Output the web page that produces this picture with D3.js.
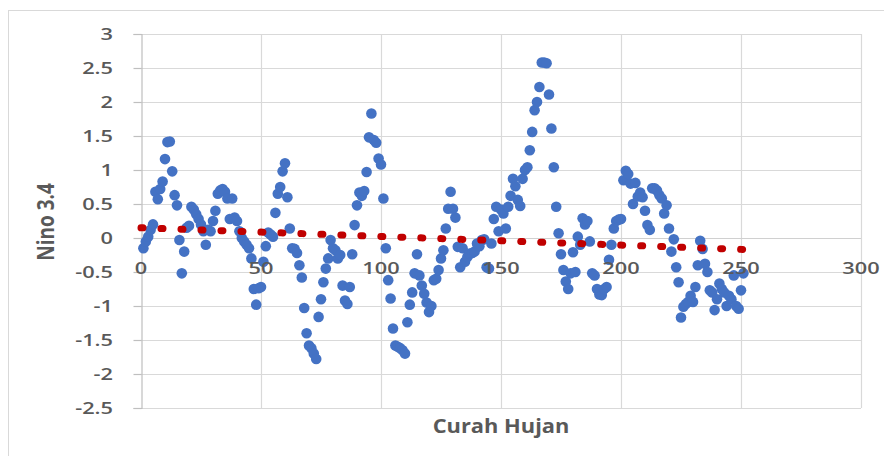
<!DOCTYPE html>
<html><head><meta charset="utf-8">
<script src="https://cdn.jsdelivr.net/npm/d3@7"></script>
<style>body{margin:0;background:#fff}</style>
</head><body><svg id="c" width="884" height="456"></svg>
<script>
// Nino 3.4 values, one per index (x = 1, 2, 3, ...)
const nino = [
 -0.15,-0.05,0.02,0.12,0.2,0.68,0.57,0.72,0.83,1.16,
 1.41,1.42,0.98,0.63,0.48,-0.03,-0.52,-0.2,0.15,0.18,
 0.46,0.42,0.35,0.28,0.2,0.1,-0.1,0.12,0.1,0.25,
 0.4,0.65,0.7,0.72,0.68,0.58,0.28,0.58,0.3,0.25,
 0.1,0.0,-0.05,-0.1,-0.15,-0.3,-0.75,-0.98,-0.74,-0.72,
 -0.35,-0.12,0.08,0.05,0.02,0.37,0.65,0.75,0.98,1.1,
 0.6,0.14,-0.15,-0.16,-0.22,-0.4,-0.58,-1.03,-1.4,-1.58,
 -1.62,-1.7,-1.78,-1.16,-0.9,-0.65,-0.45,-0.3,-0.03,-0.15,
 -0.18,-0.3,-0.25,-0.7,-0.92,-0.97,-0.72,-0.24,0.19,0.48,
 0.67,0.62,0.69,0.97,1.48,1.83,1.44,1.4,1.17,1.08,
 0.58,-0.15,-0.62,-0.89,-1.33,-1.58,-1.6,-1.62,-1.65,-1.7,
 -1.24,-0.98,-0.8,-0.52,-0.24,-0.55,-0.7,-0.82,-0.95,-1.09,
 -1.0,-0.62,-0.6,-0.47,-0.3,-0.18,0.14,0.43,0.68,0.43,
 0.3,-0.13,-0.43,-0.15,-0.35,-0.28,-0.23,-0.22,-0.2,-0.08,
 -0.12,-0.03,-0.02,-0.43,-0.45,-0.08,0.28,0.46,0.1,0.42,
 0.36,0.14,0.46,0.62,0.87,0.76,0.56,0.47,0.87,1.0,
 1.04,1.29,1.56,1.88,2.0,2.22,2.58,2.58,2.57,2.11,
 1.61,1.04,0.46,0.07,-0.24,-0.47,-0.64,-0.75,-0.52,-0.21,
 -0.5,0.02,-0.1,0.29,0.2,0.25,-0.05,-0.52,-0.55,-0.75,
 -0.83,-0.84,-0.75,-0.72,-0.32,-0.1,0.14,0.25,0.27,0.28,
 0.85,0.99,0.94,0.8,0.5,0.81,0.61,0.67,0.6,0.4,
 0.19,0.12,0.73,0.73,0.7,0.63,0.58,0.36,0.48,0.14,
 -0.2,-0.02,-0.43,-0.65,-1.17,-1.01,-0.97,-0.94,-0.85,-0.94,
 -0.72,-0.4,-0.04,-0.16,-0.38,-0.5,-0.77,-0.8,-1.06,-0.9,
 -0.67,-0.75,-0.8,-1.0,-0.85,-0.9,-0.55,-1.0,-1.04,-0.77,-0.52
];
// Linear trendline end points (as drawn in the reference)
const trendX = [0, 252];
const trendY = [0.15, -0.17];
const xTicks = [0, 50, 100, 150, 200, 250, 300];
const yTicks = [3, 2.5, 2, 1.5, 1, 0.5, 0, -0.5, -1, -1.5, -2, -2.5];
const xTitle = "Curah Hujan";
const yTitle = "Nino 3.4";

const points = nino.map((v, i) => ({x: i + 1, y: v}));

const svg = d3.select("#c");
const L = 141, R = 861, T = 34, B = 408;
const x = d3.scaleLinear().domain([0, 300]).range([L, R]);
const y = d3.scaleLinear().domain([-2.5, 3]).range([B, T]);
const textCol = "#595959";
const font = "'Open Sans', sans-serif";
const SX = 1.28;

svg.append("rect").attr("x", 0).attr("y", 0).attr("width", 884).attr("height", 456).attr("fill", "#fff");
svg.append("rect").attr("x", 8.5).attr("y", 10.5).attr("width", 900).attr("height", 480)
  .attr("fill", "none").attr("stroke", "#d9d9d9");

// gridlines
svg.append("g").selectAll("line").data(yTicks).join("line")
  .attr("x1", L).attr("x2", R)
  .attr("y1", d => Math.round(y(d)) + 0.5).attr("y2", d => Math.round(y(d)) + 0.5)
  .attr("stroke", "#d9d9d9").attr("stroke-width", 1.2);
svg.append("g").selectAll("line").data(xTicks.filter(d => d > 0)).join("line")
  .attr("y1", T).attr("y2", B)
  .attr("x1", d => Math.round(x(d)) + 0.5).attr("x2", d => Math.round(x(d)) + 0.5)
  .attr("stroke", "#d9d9d9").attr("stroke-width", 1.2);

// y axis (left) with ticks
const yAxis = d3.axisLeft(y).tickValues(yTicks).tickSize(8).tickFormat("");
const gy = svg.append("g").attr("transform", `translate(${L + 0.5},0)`).call(yAxis);
gy.select(".domain").attr("stroke", "#bfbfbf").attr("stroke-width", 1.2);
gy.selectAll(".tick line").attr("stroke", "#bfbfbf").attr("stroke-width", 1.2);

// x axis line at y=0
svg.append("line").attr("x1", L).attr("x2", R)
  .attr("y1", Math.round(y(0)) + 0.5).attr("y2", Math.round(y(0)) + 0.5)
  .attr("stroke", "#d0d0d0").attr("stroke-width", 1.2);

// y tick labels
svg.append("g").selectAll("text").data(yTicks).join("text")
  .attr("transform", d => `translate(113,${y(d) + 6}) scale(${SX},1)`)
  .attr("text-anchor", "end").attr("fill", textCol)
  .attr("font-family", font).attr("font-weight", 600).attr("font-size", 17)
  .text(d => d3.format("")(d).replace("−", "-"));

// points
svg.append("g").selectAll("circle").data(points).join("circle")
  .attr("cx", d => x(d.x)).attr("cy", d => y(d.y)).attr("r", 5.3)
  .attr("fill", "#4472C4");

// x tick labels (next to axis at y=0)
svg.append("g").selectAll("text").data(xTicks).join("text")
  .attr("transform", d => `translate(${x(d)},${y(0) + 36}) scale(${SX},1)`)
  .attr("text-anchor", "middle").attr("fill", textCol)
  .attr("font-family", font).attr("font-weight", 600).attr("font-size", 17)
  .text(d => d);

// trendline (dotted)
const line = d3.line().x(d => x(d[0])).y(d => y(d[1]));
svg.append("path").datum(trendX.map((v, i) => [v, trendY[i]]))
  .attr("d", line).attr("fill", "none").attr("stroke", "#C00000")
  .attr("stroke-width", 7).attr("stroke-linecap", "round")
  .attr("stroke-dasharray", "2 18");

// axis titles
svg.append("text")
  .attr("transform", `translate(501,433) scale(1.15,1)`)
  .attr("text-anchor", "middle").attr("fill", textCol)
  .attr("font-family", font).attr("font-weight", 700).attr("font-size", 19)
  .text(xTitle);
svg.append("text")
  .attr("transform", `translate(54,222) scale(1.2,1) rotate(-90)`)
  .attr("text-anchor", "middle").attr("fill", textCol)
  .attr("font-family", font).attr("font-weight", 700).attr("font-size", 19)
  .text(yTitle);
</script></body></html>
